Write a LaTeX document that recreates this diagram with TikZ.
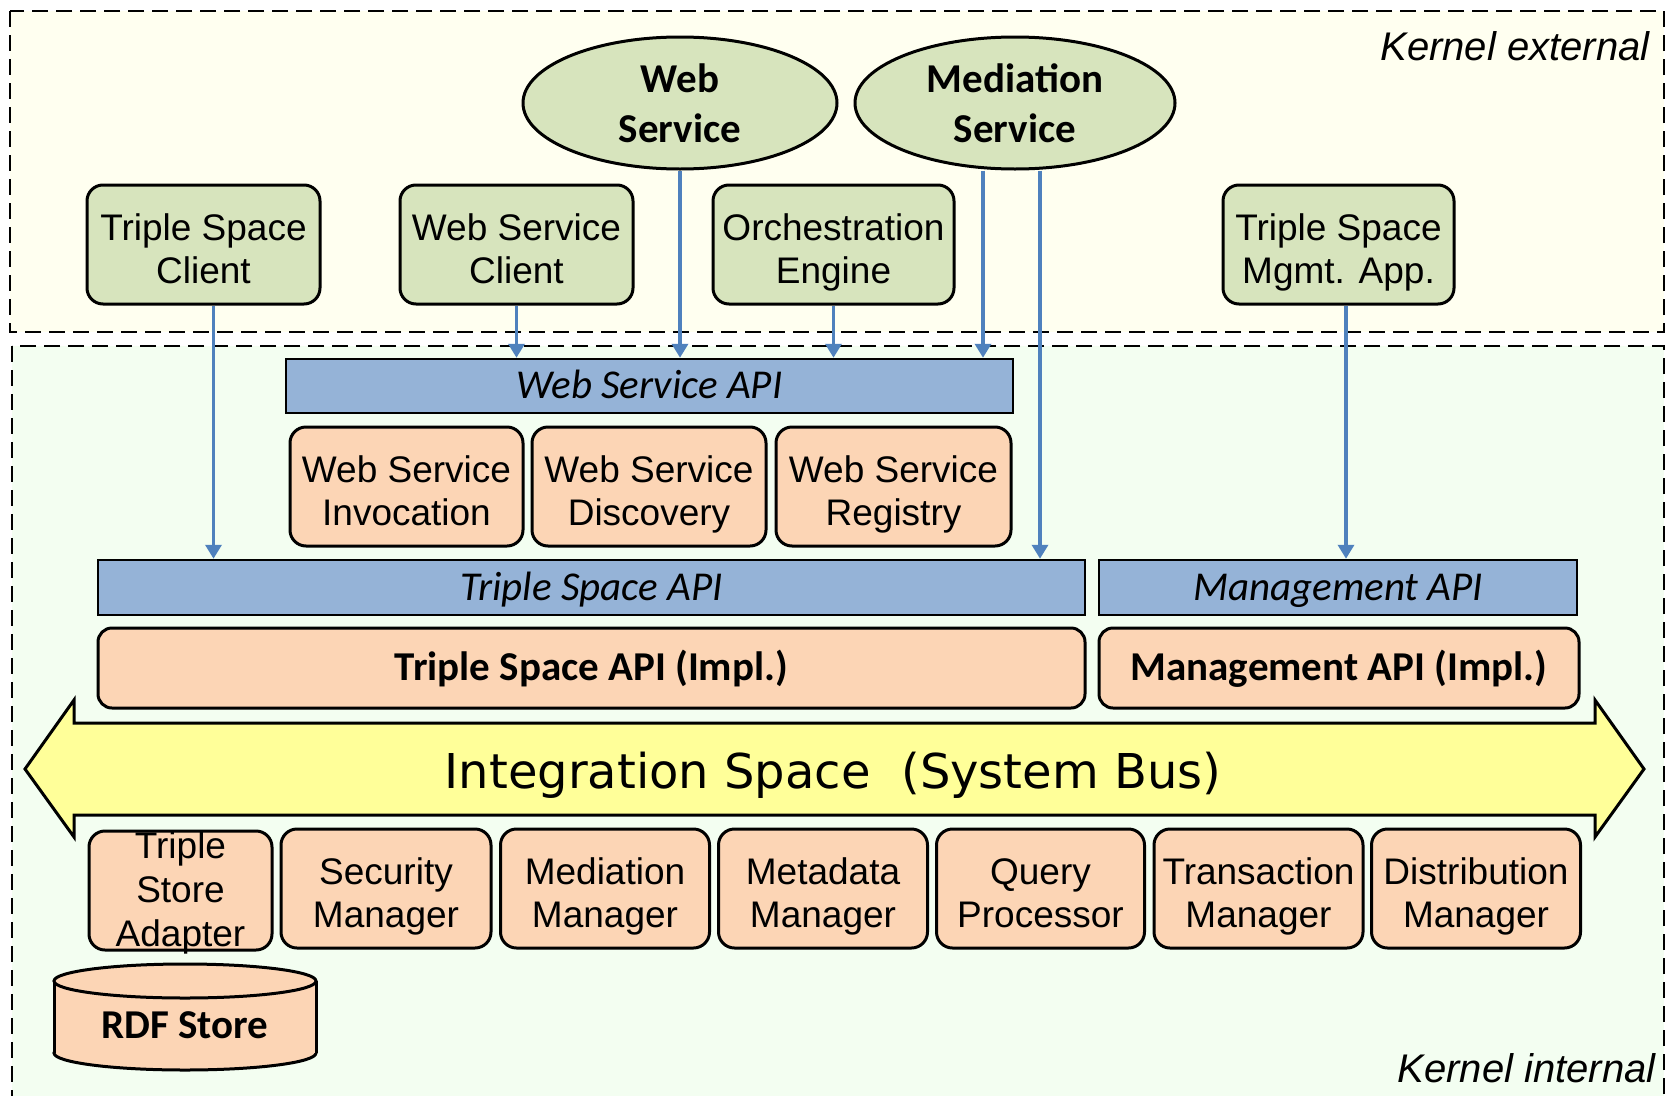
\documentclass[tikz,border=0pt]{standalone}
\usepackage{fontspec}
\setmainfont{Liberation Sans}
\newfontfamily\calfont{Carlito}
\newfontfamily\busfont{DejaVu Sans}
\usetikzlibrary{arrows.meta,positioning,shapes.geometric,calc}
\usepackage{xcolor}
\definecolor{extfill}{HTML}{FFFFF0}
\definecolor{intfill}{HTML}{F3FEF1}
\definecolor{clientgreen}{HTML}{D7E4BD}
\definecolor{compfill}{HTML}{FCD5B5}
\definecolor{apiblue}{HTML}{95B3D7}
\definecolor{busyellow}{HTML}{FFFF99}
\definecolor{flowblue}{HTML}{4F81BD}

\begin{document}
\begin{tikzpicture}[x=1pt,y=-1pt,
            region/.style={draw, dash pattern=on 16pt off 8pt, line width=2.6pt},
            gbox/.style={draw, line width=3pt, rounded corners=16pt, fill=clientgreen,
                align=center, inner sep=0pt, minimum height=119pt,
                font=\fontsize{37}{43}\selectfont,
                execute at begin node={\rule{0pt}{87pt}},
                execute at end node={\rule[-10pt]{0pt}{10pt}}},
            pbox/.style={gbox, fill=compfill},
            service/.style={ellipse, draw, line width=3pt, fill=clientgreen, align=center,
                inner sep=0pt, minimum height=132pt,
                font=\calfont\bfseries\fontsize{41}{50}\selectfont},
            apibar/.style={draw, line width=2.5pt, fill=apiblue, inner sep=0pt, minimum height=55pt,
                text height=30pt, text depth=5pt,
                font=\calfont\itshape\fontsize{41}{48}\selectfont},
            implbar/.style={pbox, rounded corners=14pt, minimum height=80pt,
                execute at begin node={}, execute at end node={},
                text height=29pt, text depth=5pt,
                font=\calfont\bfseries\fontsize{41}{48}\selectfont},
            kernel/.style={anchor=base east, font=\itshape\fontsize{40}{40}\selectfont},
            flow/.style={draw=flowblue, line width=3.5pt, -{Triangle[width=16pt,length=14pt]}}]

            \useasboundingbox (0,0) rectangle (1673,1095);
            \clip (0,0) rectangle (1673,1095);
            \fill[white] (0,0) rectangle (1673,1095);

            % the two kernel areas
            \draw[region, fill=extfill] (10,11) rectangle (1664,332);
            \draw[region, fill=intfill] (12,346) rectangle (1664,1130);
            \node[kernel] (extlbl) at (1653,60) {Kernel external};
            \node[kernel] (intlbl) at (1659,1082) {Kernel internal};

            % outside the kernel
            \node[service, minimum width=314pt] (ws) at (680,103) {Web\\Service};
            \node[service, minimum width=320pt] (med) at (1015,103) {Mediation\\Service};
            \node[gbox, minimum width=233pt] (tsc) at (203.5,244.5) {Triple Space\\Client};
            \node[gbox, minimum width=233pt, right=77pt of tsc] (wsc) {Web Service\\Client};
            \node[gbox, minimum width=241pt, right=77pt of wsc] (orch) {Orchestration\\Engine};
            \node[gbox, minimum width=231pt] (tsm) at (1338.5,244.5) {Triple Space\\Mgmt. App.};

            % APIs and web service parts
            \node[apibar, minimum width=727pt, minimum height=54pt] (wsapi) at (649.5,386) {Web Service API};
            \node[pbox, minimum width=233pt] (wsinv) at (406.5,486.5) {Web Service\\Invocation};
            \node[pbox, minimum width=234pt, right=6pt of wsinv] (wsdisc) {Web Service\\Discovery};
            \node[pbox, minimum width=235pt, right=7pt of wsdisc] (wsreg) {Web Service\\Registry};
            \node[apibar, minimum width=987pt] (tsapi) at (591.5,587.5) {Triple Space API};
            \node[apibar, minimum width=478pt] (mgapi) at (1338,587.5) {Management API};
            \node[implbar, minimum width=987pt] (tsimpl) at (591.5,668) {Triple Space API (Impl.)};
            \node[implbar, minimum width=480pt] (mgimpl) at (1339,668) {Management API (Impl.)};

            % system bus
            \draw[line width=3pt, fill=busyellow] (25,769) -- (74,700) -- (74,723) -- (1595,723)
                -- (1595,700) -- (1644,769) -- (1595,837) -- (1595,815) -- (74,815) -- (74,837) -- cycle;
            \node[anchor=base, font=\busfont\fontsize{48}{48}\selectfont] (bus) at (833,788)
                {Integration Space\ \ (System Bus)};

            % kernel components
            \node[pbox, minimum width=183pt] (tsa) at (180.5,890.5) {};
            \node[align=center, inner sep=0pt, font=\fontsize{37}{44}\selectfont] (tsalbl) at (180.5,893) {Triple\\Store\\Adapter};
            \node[pbox, minimum width=210pt] (secm) at (386,888.5) {Security\\Manager};
            \node[pbox, minimum width=209pt, right=6.5pt of secm] (medm) {Mediation\\Manager};
            \node[pbox, minimum width=209pt, right=6pt of medm] (metm) {Metadata\\Manager};
            \node[pbox, minimum width=208pt, right=6pt of metm] (qp) {Query\\Processor};
            \node[pbox, minimum width=209pt, right=6.5pt of qp] (txm) {Transaction\\Manager};
            \node[pbox, minimum width=209pt, right=5.5pt of txm] (dm) {Distribution\\Manager};

            % rdf store drum
            \filldraw[line width=3pt, fill=compfill] (185,1053) ellipse (131 and 17);
            \fill[compfill] (54,981) rectangle (316,1053);
            \draw[line width=3pt] (54,981) -- (54,1053) (316,981) -- (316,1053);
            \filldraw[line width=3pt, fill=compfill] (185,981) ellipse (131 and 17);
            \node[anchor=base, font=\calfont\bfseries\fontsize{41}{41}\selectfont] (rdf) at (185,1038) {RDF Store};

            % calls into the kernel
            \draw[flow] ([xshift=10pt]tsc.south) -- ([xshift=10pt]tsc.south |- tsapi.north);
            \draw[flow] (wsc.south) -- (wsc.south |- wsapi.north);
            \draw[flow] (ws.south) -- (ws.south |- wsapi.north);
            \draw[flow] (orch.south) -- (orch.south |- wsapi.north);
            \draw[flow] ([xshift=-32pt]med.south) -- ([xshift=-32pt]med.south |- wsapi.north);
            \draw[flow] ([xshift=25pt]med.south) -- ([xshift=25pt]med.south |- tsapi.north);
            \draw[flow] ([xshift=7.5pt]tsm.south) -- ([xshift=7.5pt]tsm.south |- mgapi.north);

\end{tikzpicture}
\end{document}
